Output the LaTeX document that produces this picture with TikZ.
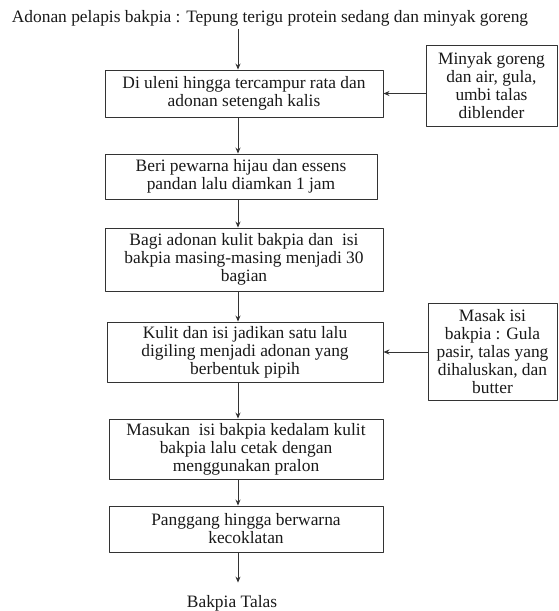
\documentclass[tikz,border=0pt]{standalone}
\usepackage{fontspec}
\setmainfont{Liberation Serif}
\usetikzlibrary{arrows.meta}
\tikzset{
	kotak/.style={draw=black!80, line width=0.9pt, align=center, inner sep=0pt, text=black!90},
	alur/.style={->, draw=black!80, line width=0.9pt}
}
\begin{document}
\begin{tikzpicture}[x=1pt,y=-1pt,>={Stealth[length=6pt,width=5pt]}, font=\fontsize{17.4}{18}\selectfont, line join=round]
	\useasboundingbox (0,0) rectangle (559,611);
	\def\kol{238} % kolom panah utama
	\coordinate (kol) at (\kol,0);
	\node[text=black!90] (judul) at (270,18) {Adonan pelapis bakpia : Tepung terigu protein sedang dan minyak goreng};
	% langkah utama
	\node[kotak, minimum width=278pt, minimum height=47pt] (b1) at (244,93.5) {Di uleni hingga tercampur rata dan\\ adonan setengah kalis};
	\node[kotak, minimum width=272pt, minimum height=45pt] (b2) at (241,176.5) {Beri pewarna hijau dan essens\\ pandan lalu diamkan 1 jam};
	\node[kotak, minimum width=278pt, minimum height=63pt] (b3) at (244,259.5) {Bagi adonan kulit bakpia dan~ isi\\ bakpia masing-masing menjadi 30\\ bagian};
	\node[kotak, minimum width=276pt, minimum height=60pt] (b4) at (245,352) {Kulit dan isi jadikan satu lalu\\ digiling menjadi adonan yang\\ berbentuk pipih};
	\node[kotak, minimum width=274pt, minimum height=60pt] (b5) at (246,449) {Masukan~ isi bakpia kedalam kulit\\ bakpia lalu cetak dengan\\ menggunakan pralon};
	\node[kotak, minimum width=274pt, minimum height=46pt] (b6) at (246,529) {Panggang hingga berwarna\\ kecoklatan};
	% bahan samping
	\node[kotak, minimum width=131pt, minimum height=81pt] (s1) at (491.5,85.5) {Minyak goreng\\ dan air, gula,\\ umbi talas\\ diblender};
	\node[kotak, minimum width=129pt, minimum height=97pt] (s2) at (492.5,351.5) {Masak isi\\ bakpia : Gula\\ pasir, talas yang\\ dihaluskan, dan\\ butter};
	\node[text=black!90] (hasil) at (232,603) {Bakpia Talas};
	% panah
	\draw[alur] (judul.south -| kol) -- (b1.north -| kol);
	\foreach \p/\q in {b1/b2,b2/b3,b3/b4,b4/b5,b5/b6}
		\draw[alur] (\p.south -| kol) -- (\q.north -| kol);
	\draw[alur, shorten >=9pt] (b6.south -| kol) -- (hasil.north -| kol);
	\draw[alur] (s1.west |- b1.east) -- (b1.east);
	\draw[alur] (s2.west |- b4.east) -- (b4.east);
\end{tikzpicture}
\end{document}
